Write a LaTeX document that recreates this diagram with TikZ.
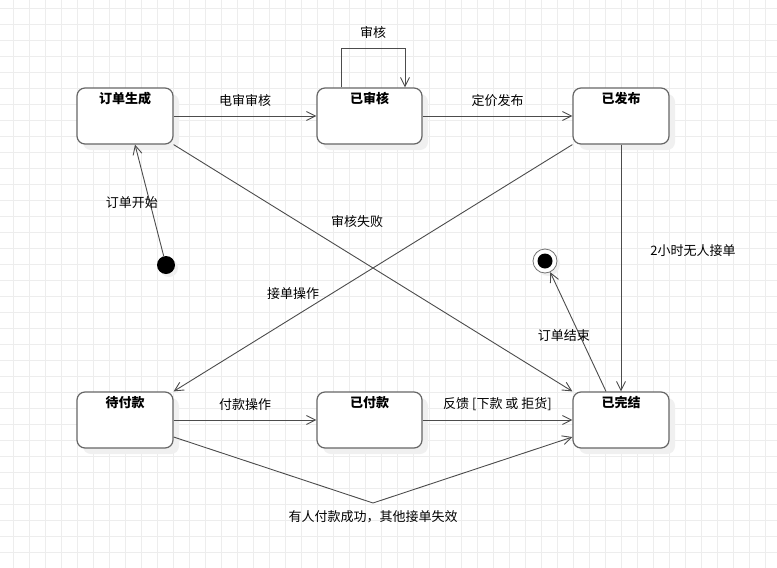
\documentclass[tikz,border=0pt]{standalone}
\usepackage{fontspec}
\setmainfont{Noto Sans CJK SC}
\usetikzlibrary{arrows.meta,shadows}

\tikzset{
  state/.style={draw=black!60, line width=1.2pt, fill=white, rounded corners=8pt,
    minimum height=56pt, inner sep=0pt,
    drop shadow={shadow xshift=6pt, shadow yshift=-6pt, fill=black!6, opacity=1}},
  statename/.style={font=\bfseries\fontsize{13}{15}\selectfont, anchor=north, inner sep=0pt, yshift=-5pt},
  trans/.style={draw=black!70, line width=0.9pt, -{Straight Barb[length=9pt,width=9pt]}},
  translabel/.style={font=\fontsize{13}{15}\selectfont, inner sep=1pt},
  initial/.style={circle, fill=black, minimum size=18pt, inner sep=0pt,
    drop shadow={shadow xshift=3pt, shadow yshift=-3pt, fill=black!6, opacity=1}},
  final/.style={circle, draw=black!55, line width=0.8pt, fill=white, minimum size=24pt, inner sep=0pt,
    drop shadow={shadow xshift=3pt, shadow yshift=-3pt, fill=black!6, opacity=1},
    path picture={\fill[black] (path picture bounding box.center) circle (7.5pt);}},
}

\begin{document}
\begin{tikzpicture}[x=1pt,y=-1pt]
      \useasboundingbox (0,0) rectangle (777,568);
      \fill[white] (0,0) rectangle (777,568);
      % background grid
      \draw[step=16pt, black!7, line width=0.8pt, xshift=13pt, yshift=-8pt] (-13,-8) grid (764,560);
      % states
      \node[state, minimum width=96pt, label={[statename]north:订单生成}] (created) at (125,116) {};
      \node[state, minimum width=105pt, label={[statename]north:已审核}] (audited) at (369.5,116) {};
      \node[state, minimum width=96pt, label={[statename]north:已发布}] (published) at (621,116) {};
      \node[state, minimum width=96pt, label={[statename]north:待付款}] (pending) at (125,420) {};
      \node[state, minimum width=105pt, label={[statename]north:已付款}] (paid) at (369.5,420) {};
      \node[state, minimum width=96pt, label={[statename]north:已完结}] (finished) at (621,420) {};
      % start and end
      \node[initial] (init) at (166,265) {};
      \node[final] (end) at (545,261) {};
      % horizontal transitions
      \draw[trans] (created) -- (audited) node[midway, above=8pt, translabel]{电审审核};
      \draw[trans] (audited) -- (published) node[midway, above=8pt, translabel]{定价发布};
      \draw[trans] (pending) -- (paid) node[midway, above=8pt, translabel]{付款操作};
      \draw[trans] (paid) -- (finished) node[midway, above=8pt, translabel]{反馈 [下款 或 拒货]};
      % self loop on 已审核
      \coordinate (loopl) at (341,48);
      \coordinate (loopr) at (405,48);
      \draw[trans] (audited.north -| loopl) -- (loopl) -- (loopr) node[midway, above=8pt, translabel]{审核}
        -- (audited.north -| loopr);
      % vertical and diagonal transitions
      \draw[trans] (published) -- (finished) node[pos=0.43, right=28pt, translabel]{2小时无人接单};
      \draw[trans] (published.south west) -- (pending.north east) node[pos=0.7, yshift=24pt, translabel]{接单操作};
      \draw[trans] (created.south east) -- (finished.north west) node[pos=0.46, yshift=37pt, translabel]{审核失败};
      \draw[trans] (init) -- ([xshift=10pt]created.south) node[pos=0.48, xshift=-18pt, translabel]{订单开始};
      \draw[trans] ([xshift=-15pt]finished.north) -- (end) node[pos=0.47, xshift=-16pt, translabel]{订单结束};
      % bent transition below
      \coordinate (bend) at (373,503);
      \draw[trans] ([yshift=-17pt]pending.east) -- (bend) -- ([yshift=-17pt]finished.west);
      \node[translabel, below=6pt] (bendlabel) at (bend) {有人付款成功，其他接单失效};
    \end{tikzpicture}
\end{document}
